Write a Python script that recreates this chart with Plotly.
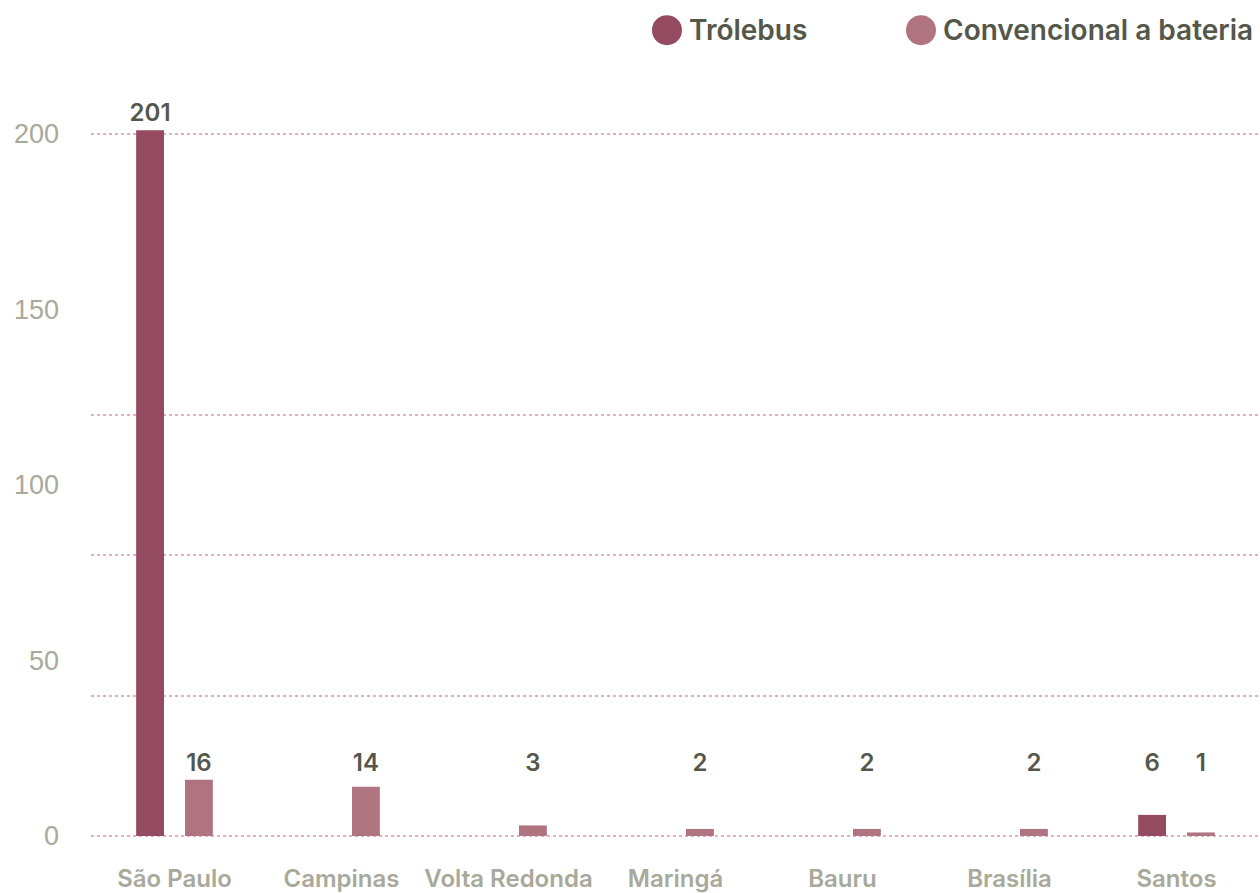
import numpy as np
import plotly.graph_objects as go

cities = ["São Paulo", "Campinas", "Volta Redonda", "Maringá", "Bauru", "Brasília", "Santos"]
trolebus = [201, None, None, None, None, None, 6]
convencional = [16, 14, 3, 2, 2, 2, 1]
y_ticks = [0, 50, 100, 150, 200]
grid_vals = [0, 40, 80, 120, 200]
label_floor = 16

C_TROL = "#954B5F"
C_CONV = "#B07480"
C_TEXT = "#55574A"
C_TICK = "#A8A99B"
C_GRID = "#E2AFBD"
FONT = "Inter"


def label_heights(vals):
    return [None if v is None else max(v, label_floor) for v in vals]


def label_texts(vals):
    return ["" if v is None else str(v) for v in vals]


fig = go.Figure()
fig.add_trace(go.Bar(x=cities, y=trolebus, name="Trólebus", marker=dict(color=C_TROL, line=dict(width=0)),
                     offsetgroup="t", showlegend=False, hoverinfo="y"))
fig.add_trace(go.Bar(x=cities, y=convencional, name="Convencional a bateria",
                     marker=dict(color=C_CONV, line=dict(width=0)),
                     offsetgroup="c", showlegend=False, hoverinfo="y"))
# value labels (invisible bars carrying outside text)
for vals, grp in [(trolebus, "t"), (convencional, "c")]:
    fig.add_trace(go.Bar(x=cities, y=label_heights(vals), offsetgroup=grp,
                         marker=dict(color="rgba(0,0,0,0)", line=dict(width=0, color="rgba(0,0,0,0)")),
                         text=label_texts(vals),
                         textposition="outside", constraintext="none", cliponaxis=False,
                         textfont=dict(family=FONT, size=24, color=C_TEXT, weight=600),
                         showlegend=False, hoverinfo="skip"))
# dummy trace for grid axis
fig.add_trace(go.Scatter(x=[cities[0]], y=[None], yaxis="y2", showlegend=False, hoverinfo="skip"))

yr = [-1.15, 215.85]
fig.update_layout(
    width=1260, height=893,
    margin=dict(l=91, r=0, t=78, b=51),
    paper_bgcolor="white", plot_bgcolor="white",
    barmode="group", bargap=0.415, bargroupgap=0.43,
    showlegend=False,
    xaxis=dict(type="category", showgrid=False, zeroline=False, showline=False, ticks="",
               tickfont=dict(family=FONT, size=24, color=C_TICK, weight=600),
               ticklabelstandoff=22),
    yaxis=dict(range=yr, tickvals=y_ticks, showgrid=False, zeroline=False, showline=False,
               ticks="", tickfont=dict(family="Liberation Sans", size=27, color=C_TICK),
               ticklabelstandoff=31),
    yaxis2=dict(range=yr, overlaying="y", side="left", tickvals=grid_vals, showticklabels=False,
                showgrid=True, gridcolor=C_GRID, griddash="dot", gridwidth=2,
                zeroline=False, showline=False, ticks=""),
)

# legend built from shapes + annotations
legend_items = [("Trólebus", C_TROL, 0.4927), ("Convencional a bateria", C_CONV, 0.7100)]
ly = (842 - 30) / 764
for name, col, lx in legend_items:
    fig.add_shape(type="circle", xref="paper", yref="paper", xsizemode="pixel", ysizemode="pixel",
                  xanchor=lx, yanchor=ly, x0=-15, x1=15, y0=-15, y1=15,
                  fillcolor=col, line=dict(width=0))
    fig.add_annotation(x=lx + 20 / 1169, y=ly, xref="paper", yref="paper", xanchor="left",
                       yanchor="middle", showarrow=False, text=name,
                       font=dict(family=FONT, size=28, color=C_TEXT, weight=600))

fig.write_html("out.html")
